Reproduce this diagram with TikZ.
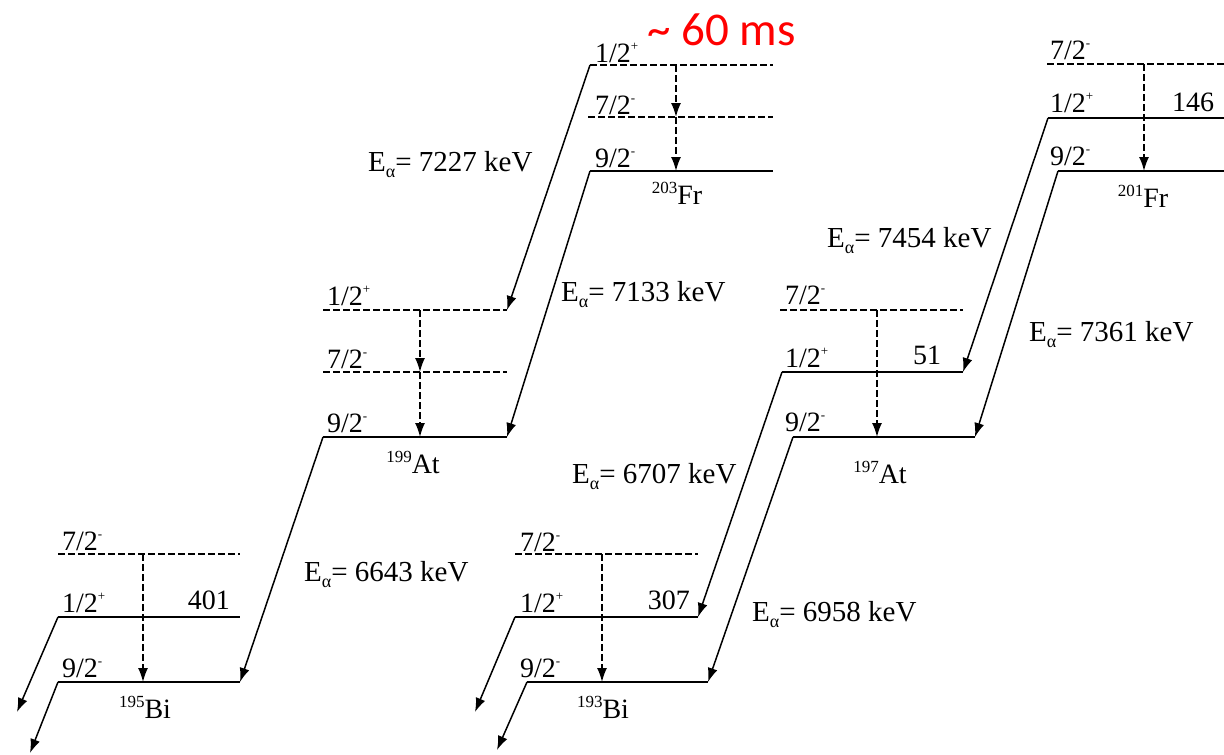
\documentclass[tikz,border=0pt]{standalone}
\usepackage{fontspec}
\setmainfont{Liberation Serif}
\newfontfamily\calfont{Carlito}
\usetikzlibrary{arrows.meta}
\newcommand{\spin}[2]{#1\raisebox{0.42em}{\fontsize{13}{13}\selectfont #2}}
\newcommand{\isot}[2]{\raisebox{0.38em}{\fontsize{17}{17}\selectfont #1}#2}
\newcommand{\Ealpha}[1]{E\raisebox{-0.22em}{\fontsize{18}{18}\selectfont α}= #1 keV}
\begin{document}
\begin{tikzpicture}[x=1pt,y=-1pt,
  level/.style={line width=2.2pt},
  dlevel/.style={line width=1.9pt, dash pattern=on 7pt off 3pt},
  gam/.style={line width=1.7pt, dash pattern=on 7pt off 3pt, -{Latex[length=14pt,width=10pt]}},
  alph/.style={line width=1.5pt, -{Latex[length=14pt,width=10pt]}},
  esc/.style={line width=1.5pt, -{Latex[length=14pt,width=10pt]}},
  lab/.style={anchor=base west, inner sep=0pt, font=\fontsize{28}{32}\selectfont},
  elab/.style={anchor=base west, inner sep=0pt, font=\fontsize{29}{32}\selectfont},
  labr/.style={anchor=base east, inner sep=0pt, font=\fontsize{28}{32}\selectfont},
  nuc/.style={anchor=base, inner sep=0pt, font=\fontsize{28}{32}\selectfont},
  red/.style={anchor=base west, inner sep=0pt, text=red, font=\calfont\fontsize{47}{52}\selectfont}]
\useasboundingbox (0,0) rectangle (1224,755);
\fill[white] (0,0) rectangle (1224,755);

% ---------- 203Fr ----------
\coordinate (A1l) at (590,65);  \coordinate (A1r) at (773,65);
\coordinate (A2l) at (588,117); \coordinate (A2r) at (773,117);
\coordinate (A3l) at (590,171); \coordinate (A3r) at (773,171);
\coordinate (Ag1) at (676,65); \coordinate (Ag2) at (676,117); \coordinate (Ag3) at (676,171);
\draw[dlevel] (A1l) -- (A1r);
\draw[dlevel] (A2l) -- (A2r);
\draw[level] (A3l) -- (A3r);
\draw[gam] (Ag1) -- (Ag2);
\draw[gam] (Ag2) -- (Ag3);
\node[lab] (A1t) at (595,62) {\spin{1/2}{+}};
\node[lab] (A2t) at (595,114) {\spin{7/2}{-}};
\node[lab] (A3t) at (595,167) {\spin{9/2}{-}};
\node[nuc] (Anuc) at (677,204) {\isot{203}{Fr}};

% ---------- 199At ----------
\coordinate (B1l) at (323,310); \coordinate (B1r) at (507,310);
\coordinate (B2l) at (323,372); \coordinate (B2r) at (507,372);
\coordinate (B3l) at (323,437); \coordinate (B3r) at (507,437);
\coordinate (Bg1) at (420,310); \coordinate (Bg2) at (420,372); \coordinate (Bg3) at (420,437);
\draw[dlevel] (B1l) -- (B1r);
\draw[dlevel] (B2l) -- (B2r);
\draw[level] (B3l) -- (B3r);
\draw[gam] (Bg1) -- (Bg2);
\draw[gam] (Bg2) -- (Bg3);
\node[lab] (B1t) at (327,305) {\spin{1/2}{+}};
\node[lab] (B2t) at (327,368) {\spin{7/2}{-}};
\node[lab] (B3t) at (327,432) {\spin{9/2}{-}};
\node[nuc] (Bnuc) at (413,473) {\isot{199}{At}};

% ---------- 195Bi ----------
\coordinate (C1l) at (58,554); \coordinate (C1r) at (240,554);
\coordinate (C2l) at (58,617); \coordinate (C2r) at (240,617);
\coordinate (C3l) at (58,682); \coordinate (C3r) at (240,682);
\coordinate (Cg1) at (143,554); \coordinate (Cg3) at (143,682);
\coordinate (Cx2) at (17,712); \coordinate (Cx3) at (30,753);
\draw[dlevel] (C1l) -- (C1r);
\draw[level] (C2l) -- (C2r);
\draw[level] (C3l) -- (C3r);
\draw[gam] (Cg1) -- (Cg3);
\draw[esc] (C2l) -- (Cx2);
\draw[esc] (C3l) -- (Cx3);
\node[lab] (C1t) at (62,550) {\spin{7/2}{-}};
\node[lab] (C2t) at (62,612) {\spin{1/2}{+}};
\node[lab] (C3t) at (62,677) {\spin{9/2}{-}};
\node[labr] (C2e) at (230,609) {401};
\node[nuc] (Cnuc) at (145,718) {\isot{195}{Bi}};

% ---------- 201Fr ----------
\coordinate (D1l) at (1047,64);  \coordinate (D1r) at (1224,64);
\coordinate (D2l) at (1048,118); \coordinate (D2r) at (1224,118);
\coordinate (D3l) at (1058,171); \coordinate (D3r) at (1224,171);
\coordinate (Dg1) at (1144,64); \coordinate (Dg3) at (1144,171);
\draw[dlevel] (D1l) -- (D1r);
\draw[level] (D2l) -- (D2r);
\draw[level] (D3l) -- (D3r);
\draw[gam] (Dg1) -- (Dg3);
\node[lab] (D1t) at (1050,59) {\spin{7/2}{-}};
\node[lab] (D2t) at (1050,112) {\spin{1/2}{+}};
\node[lab] (D3t) at (1050,165) {\spin{9/2}{-}};
\node[lab] (D2e) at (1172,111) {146};
\node[nuc] (Dnuc) at (1143,207) {\isot{201}{Fr}};

% ---------- 197At ----------
\coordinate (E1l) at (780,310); \coordinate (E1r) at (963,310);
\coordinate (E2l) at (782,372); \coordinate (E2r) at (963,372);
\coordinate (E3l) at (793,437); \coordinate (E3r) at (975,437);
\coordinate (Eg1) at (877,310); \coordinate (Eg3) at (877,437);
\draw[dlevel] (E1l) -- (E1r);
\draw[level] (E2l) -- (E2r);
\draw[level] (E3l) -- (E3r);
\draw[gam] (Eg1) -- (Eg3);
\node[lab] (E1t) at (785,304) {\spin{7/2}{-}};
\node[lab] (E2t) at (785,367) {\spin{1/2}{+}};
\node[lab] (E3t) at (785,431) {\spin{9/2}{-}};
\node[lab] (E2e) at (913,364) {51};
\node[nuc] (Enuc) at (880,483) {\isot{197}{At}};

% ---------- 193Bi ----------
\coordinate (F1l) at (515,554); \coordinate (F1r) at (698,554);
\coordinate (F2l) at (515,617); \coordinate (F2r) at (698,617);
\coordinate (F3l) at (527,682); \coordinate (F3r) at (708,682);
\coordinate (Fg1) at (602,554); \coordinate (Fg3) at (602,682);
\coordinate (Fx2) at (475,712); \coordinate (Fx3) at (497,750);
\draw[dlevel] (F1l) -- (F1r);
\draw[level] (F2l) -- (F2r);
\draw[level] (F3l) -- (F3r);
\draw[gam] (Fg1) -- (Fg3);
\draw[esc] (F2l) -- (Fx2);
\draw[esc] (F3l) -- (Fx3);
\node[lab] (F1t) at (520,551) {\spin{7/2}{-}};
\node[lab] (F2t) at (520,612) {\spin{1/2}{+}};
\node[lab] (F3t) at (520,677) {\spin{9/2}{-}};
\node[labr] (F2e) at (690,609) {307};
\node[nuc] (Fnuc) at (603,718) {\isot{193}{Bi}};

% ---------- alpha decays ----------
\draw[alph] (A1l) -- (B1r);
\draw[alph] (A3l) -- (B3r);
\draw[alph] (B3l) -- (C3r);
\draw[alph] (D2l) -- (E2r);
\draw[alph] (D3l) -- (E3r);
\draw[alph] (E2l) -- (F2r);
\draw[alph] (E3l) -- (F3r);
\node[elab] (Ea1) at (368,171) {\Ealpha{7227}};
\node[elab] (Ea2) at (561,301) {\Ealpha{7133}};
\node[elab] (Ea3) at (304,581) {\Ealpha{6643}};
\node[elab] (Ea4) at (827,247) {\Ealpha{7454}};
\node[elab] (Ea5) at (1029,341) {\Ealpha{7361}};
\node[elab] (Ea6) at (572,483) {\Ealpha{6707}};
\node[elab] (Ea7) at (752,621) {\Ealpha{6958}};

\node[red] (life) at (647,45) {\char"7E{} 60 ms};
\end{tikzpicture}
\end{document}
